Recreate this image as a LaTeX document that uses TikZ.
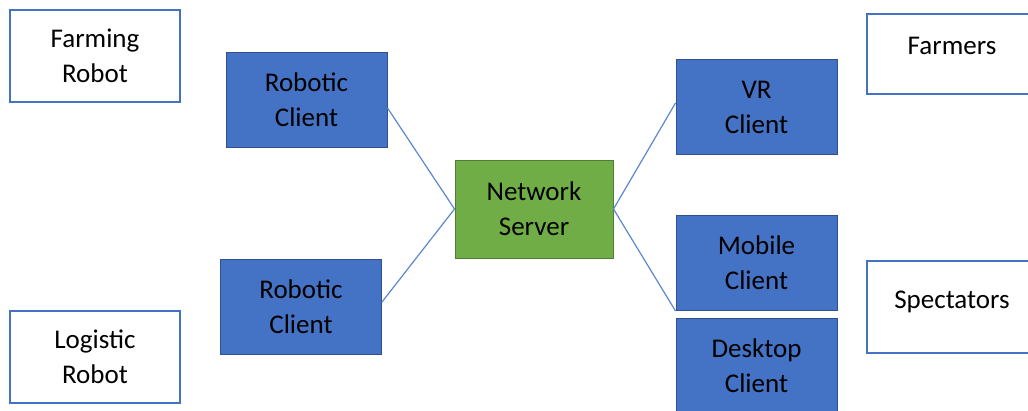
\documentclass[tikz,border=0pt]{standalone}
\usepackage{fontspec}
\setmainfont{Carlito}
\usetikzlibrary{calc}
\definecolor{clientblue}{HTML}{4472C4}
\definecolor{clientedge}{HTML}{2F528F}
\definecolor{servergreen}{HTML}{70AD47}
\definecolor{serveredge}{HTML}{507E32}
\definecolor{linkblue}{HTML}{5B87D0}
\tikzset{
  base/.style={rectangle, inner sep=0pt, align=center, text=black,
    font=\fontsize{27}{35}\selectfont},
  client/.style={base, fill=clientblue, draw=clientedge, line width=1pt,
    minimum width=161pt, minimum height=95pt},
  server/.style={base, fill=servergreen, draw=serveredge, line width=1pt,
    minimum width=158pt, minimum height=98pt},
  actor/.style={base, fill=white, draw=clientblue, line width=2pt,
    minimum width=170pt, minimum height=92pt},
  link/.style={draw=linkblue, line width=1.2pt}
}
\begin{document}
\begin{tikzpicture}[x=1pt,y=-1pt]
  \useasboundingbox (0,0) rectangle (1028,410);
  % actors on the left
  \node[actor] (farmrobot) at (95,56) {Farming\\Robot};
  \node[actor] (logrobot) at (95,356.5) {Logistic\\Robot};
  % robotic clients
  \node[client] (robtop) at (306.5,99.5) {Robotic\\Client};
  \node[client] (robbot) at (301,306.5) {Robotic\\Client};
  % central server
  \node[server] (server) at (534,209) {Network\\Server};
  % user clients on the right
  \node[client] (vr) at (756.5,107) {VR\\Client};
  \node[client] (mobile) at (756.5,263) {Mobile\\Client};
  \node[client] (desktop) at (756.5,365.5) {Desktop\\Client};
  % user groups on the right
  \node[actor, minimum height=80pt] (farmers) at (952,54) {\raisebox{17pt}{Farmers}};
  \node[actor] (spectators) at (952,307) {\raisebox{15pt}{Spectators}};
  % links to the server
  \draw[link] ($(robtop.east)+(0,8.5)$) -- (server.west);
  \draw[link] ($(robbot.east)+(0,-4.5)$) -- (server.west);
  \draw[link] (server.east) -- ($(vr.west)+(0,-4)$);
  \draw[link] (server.east) -- (mobile.south west);
\end{tikzpicture}
\end{document}
